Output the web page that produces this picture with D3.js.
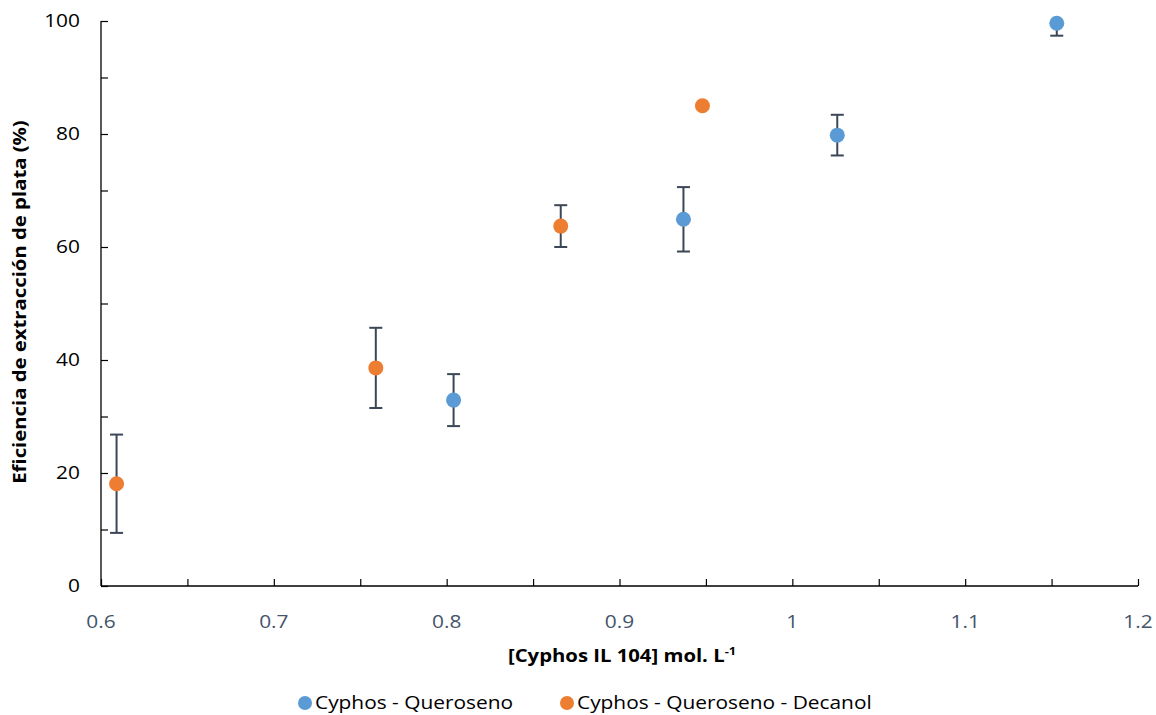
<!DOCTYPE html>
<html><head><meta charset="utf-8">
<script src="https://cdn.jsdelivr.net/npm/d3@7"></script>
<style>body{margin:0;background:#fff}svg{display:block}text{font-family:"Open Sans",sans-serif}</style>
</head><body><svg id="c" width="1156" height="715"></svg>
<script>
const seriesNames = ["Cyphos - Queroseno", "Cyphos - Queroseno - Decanol"];
const blueX = [0.804, 0.937, 1.026, 1.153];
const blueY = [32.9, 64.9, 79.8, 99.6];
const blueErr = [4.6, 5.7, 3.6, 2.2];
const orangeX = [0.609, 0.759, 0.866, 0.948];
const orangeY = [18.1, 38.6, 63.7, 85.0];
const orangeErr = [8.7, 7.1, 3.7, 0];
const xTicks = [0.6, 0.7, 0.8, 0.9, 1, 1.1, 1.2];
const yTicks = [0, 20, 40, 60, 80, 100];
const colors = ["#5B9BD5", "#ED7D31"];
const SX = 1.16; // horizontal stretch to mimic the wider original font

const svg = d3.select("#c");
const x = d3.scaleLinear().domain([0.6, 1.2]).range([101, 1138]);
const y = d3.scaleLinear().domain([0, 100]).range([586, 21]);

// axes
const yAxis = d3.axisLeft(y).tickValues(d3.range(0, 101, 10)).tickSize(-7).tickFormat("");
const gy = svg.append("g").attr("transform", "translate(101,0)").call(yAxis);
gy.select(".domain").attr("stroke", "#000").attr("stroke-width", 1.3).attr("d", "M0,586V21");
gy.selectAll(".tick line").attr("stroke", "#000").attr("stroke-width", 1.2);
const xAxis = d3.axisBottom(x).tickValues(d3.range(0.6, 1.2001, 0.05)).tickSize(-7).tickFormat("");
const gx = svg.append("g").attr("transform", "translate(0,586)").call(xAxis);
gx.select(".domain").attr("stroke", "#000").attr("stroke-width", 1.3).attr("d", "M101,0H1138");
gx.selectAll(".tick line").attr("stroke", "#000").attr("stroke-width", 1.2);

svg.append("g").selectAll("text").data(yTicks).join("text")
  .attr("transform", d => `translate(80,${y(d)}) scale(${SX},1)`).attr("dy", "0.36em").attr("text-anchor", "end")
  .attr("font-size", 18).attr("fill", "#000").text(d => d);
svg.append("g").selectAll("text").data(xTicks).join("text")
  .attr("transform", d => `translate(${x(d)},622) scale(${SX},1)`).attr("dy", "0.36em").attr("text-anchor", "middle")
  .attr("font-size", 18).attr("fill", "#44546A").text(d => d3.format("~g")(d));

// titles
svg.append("text").attr("transform", `translate(26,302) rotate(-90) scale(${SX},1)`).attr("text-anchor", "middle")
  .attr("font-size", 17.5).attr("font-weight", "bold").attr("fill", "#000")
  .text("Eficiencia de extracción de plata (%)");
const xt = svg.append("text").attr("transform", `translate(622,662) scale(${SX},1)`).attr("text-anchor", "middle")
  .attr("font-size", 17.5).attr("font-weight", "bold").attr("fill", "#000");
xt.append("tspan").text("[Cyphos IL 104] mol. L");
xt.append("tspan").attr("dy", -7).attr("font-size", 11).text("-1");

// data
const series = [
  {xs: blueX, ys: blueY, es: blueErr, c: colors[0]},
  {xs: orangeX, ys: orangeY, es: orangeErr, c: colors[1]}
];
const clamp = v => Math.min(100, Math.max(0, v));
series.forEach(s => {
  const pts = s.xs.map((v, i) => ({x: v, y: s.ys[i], e: s.es[i]}));
  const eg = svg.append("g").attr("stroke", "#3B4656").attr("stroke-width", 2);
  pts.filter(p => p.e > 0).forEach(p => {
    const lo = y(p.y - p.e), hi = y(clamp(p.y + p.e)), cx = x(p.x);
    eg.append("line").attr("x1", cx).attr("x2", cx).attr("y1", lo).attr("y2", hi);
    eg.append("line").attr("x1", cx - 6.5).attr("x2", cx + 6.5).attr("y1", lo).attr("y2", lo);
    if (p.y + p.e <= 100) eg.append("line").attr("x1", cx - 6.5).attr("x2", cx + 6.5).attr("y1", hi).attr("y2", hi);
  });
  svg.append("g").selectAll("circle").data(pts).join("circle")
    .attr("cx", p => x(p.x)).attr("cy", p => y(p.y)).attr("r", 7.5).attr("fill", s.c);
});

// legend
const lg = [{n: seriesNames[0], c: colors[0], x: 305}, {n: seriesNames[1], c: colors[1], x: 567}];
lg.forEach(l => {
  svg.append("circle").attr("cx", l.x).attr("cy", 703).attr("r", 7).attr("fill", l.c);
  svg.append("text").attr("transform", `translate(${l.x + 10},703) scale(${SX},1)`).attr("dy", "0.36em").attr("font-size", 18)
    .attr("fill", "#000").text(l.n);
});
</script></body></html>
